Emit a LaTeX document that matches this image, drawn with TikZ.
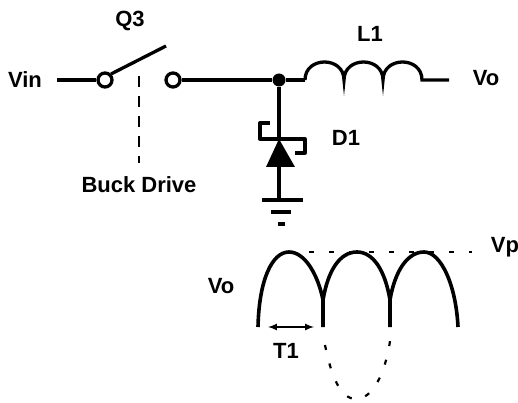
\documentclass[tikz,border=0pt]{standalone}
\usepackage{fontspec}
\setmainfont{Liberation Sans}
\tikzset{
	wire/.style={line width=3.3pt},
	term/.style={circle,draw,line width=3.3pt,fill=white,minimum size=14pt,inner sep=0pt},
	lbl/.style={font=\fontsize{22}{24}\selectfont\bfseries,inner sep=0pt}
}
\begin{document}
\begin{tikzpicture}[x=1pt,y=-1pt]
	\useasboundingbox (0,0) rectangle (518,403);
	% switch and inductor
	\node[lbl] at (25,80)(vin){Vin};
	\node[lbl] at (130,21)(q3){Q3};
	\node[lbl] at (370,34)(l1){L1};
	\node[lbl] at (486,78)(vo){Vo};
	\node[lbl] at (139,185)(drive){Buck Drive};
	\node[lbl] at (346,138)(d1){D1};
	\node[term] at (105,80)(swa){};
	\node[term] at (173,80)(swb){};
	\node[circle,fill,minimum size=13pt,inner sep=0pt] at (279,80)(dot){};
	\coordinate (vinend) at (57,80);
	\coordinate (armend) at (166,46);
	\coordinate (armstart) at (111,74);
	\coordinate (lstart) at (305,80);
	\coordinate (lend) at (422,80);
	\coordinate (voend) at (449,80);
	\coordinate (dashtop) at (139,76);
	\coordinate (dashbot) at (139,163);
	\draw[wire] (vinend)--(swa);
	\draw[wire] (armstart)--(armend);
	\draw[wire] (swb)--(dot)--(lstart);
	\draw[wire] (lstart)
		.. controls (305,56) and (344,56) .. (344,80)
		.. controls (344,56) and (383,56) .. (383,80)
		.. controls (383,56) and (422,56) .. (lend)--(voend);
	\draw[line width=2.6pt,dash pattern=on 11pt off 9pt] (dashtop)--(dashbot);
	% zener diode
	\coordinate (ztip) at (279,139);
	\coordinate (zleft) at (266,167);
	\coordinate (zright) at (295,167);
	\coordinate (zbase) at (279,167);
	\coordinate (gnd) at (279,200);
	\coordinate (hooka) at (270,123);
	\coordinate (hookb) at (295,153);
	\fill (ztip)--(zleft)--(zright)--cycle;
	\draw[wire] (dot)--(ztip);
	\draw[wire] (zbase)--(gnd);
	\draw[wire,line join=round] (hooka)-|(260,139)-|(305,153)--(hookb);
	\coordinate (gnda) at (262,200);
	\coordinate (gndb) at (303,200);
	\coordinate (gndc) at (271,212);
	\coordinate (gndd) at (291,212);
	\coordinate (gnde) at (278,224);
	\coordinate (gndf) at (285,224);
	\draw[wire,line width=4pt] (gnda)--(gndb);
	\draw[wire] (gndc)--(gndd);
	\draw[wire,line width=4pt] (gnde)--(gndf);
	% waveform
	\node[lbl] at (221,286)(vo2){Vo};
	\node[lbl] at (505,247)(vp){Vp};
	\node[lbl] at (286,351)(t1){T1};
	\coordinate (arcstart) at (258,327);
	\coordinate (cuspa) at (323,300);
	\coordinate (cuspb) at (390,300);
	\coordinate (basea) at (323,327);
	\coordinate (baseb) at (390,327);
	\coordinate (arcend) at (458,327);
	\draw[wire,line width=3.6pt] (arcstart)
		.. controls (259,280) and (272,252) .. (289,252)
		.. controls (305,252) and (318,275) .. (cuspa)--(basea);
	\draw[wire,line width=3.6pt] (cuspa)
		.. controls (328,270) and (340,252) .. (357,252)
		.. controls (373,252) and (385,270) .. (cuspb)--(baseb);
	\draw[wire,line width=3.6pt] (cuspb)
		.. controls (395,270) and (408,252) .. (424,252)
		.. controls (441,252) and (456,285) .. (arcend);
	\coordinate (peak) at (289,252);
	\coordinate (peakend) at (472,252);
	\draw[line width=2.2pt,dash pattern=on 5pt off 15pt] (peak)--(peakend);
	\coordinate (ta) at (268,327);
	\coordinate (tb) at (314,327);
	\path[latex-latex,line width=2pt] (ta) edge (tb);
	\coordinate (lowa) at (325,345);
	\coordinate (lowb) at (390,341);
	\draw[line width=2.2pt,dash pattern=on 5pt off 14pt] (lowa)
		.. controls (331,375) and (340,399) .. (356,399)
		.. controls (372,399) and (385,375) .. (lowb);
\end{tikzpicture}
\end{document}
